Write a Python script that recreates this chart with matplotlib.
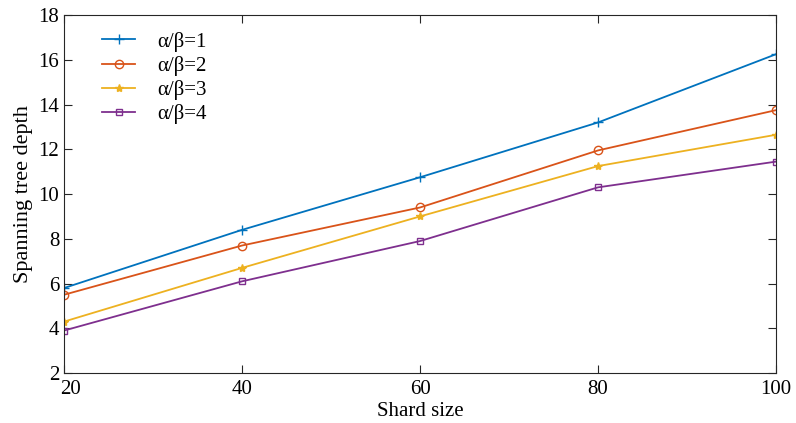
import matplotlib.pyplot as plt
import matplotlib.transforms as mtransforms
import numpy as np

plt.rcParams['font.family'] = ['Liberation Serif', 'DejaVu Serif']

shard_size = [20, 40, 60, 80, 100]
depth_r1 = [5.8, 8.4, 10.75, 13.2, 16.25]
depth_r2 = [5.5, 7.7, 9.4, 11.95, 13.75]
depth_r3 = [4.3, 6.7, 9.0, 11.25, 12.65]
depth_r4 = [3.9, 6.1, 7.9, 10.3, 11.45]
labels = ['α/β=1', 'α/β=2', 'α/β=3', 'α/β=4']

fig = plt.figure(figsize=(7.96, 4.23), dpi=100)
ax = fig.add_axes([0.0804, 0.118, 0.8946, 0.8465])

ax.plot(shard_size, depth_r1, color='#0072BD', marker='+', markersize=7, lw=1.3, label=labels[0])
ax.plot(shard_size, depth_r2, color='#D95319', marker='o', markersize=6, mfc='none', lw=1.3, label=labels[1])
ax.plot(shard_size, depth_r3, color='#EDB120', marker='*', markersize=6, lw=1.3, label=labels[2])
ax.plot(shard_size, depth_r4, color='#7E2F8E', marker='s', markersize=5, mfc='none', lw=1.3, label=labels[3])

ax.set_xlim(20, 100)
ax.set_ylim(2, 18)
ax.set_xticks([20, 40, 60, 80, 100])
ax.set_yticks(np.arange(2, 19, 2))
ax.tick_params(direction='in', top=True, right=True, labelsize=15, length=6, color='#262626')
ax.tick_params(axis='x', pad=5)
for s in ax.spines.values():
    s.set_color('#262626')
    s.set_linewidth(0.8)

# nudge the first x label right so it clears the "2" on the y axis
first = ax.get_xticklabels()[0]
first.set_transform(first.get_transform() + mtransforms.ScaledTranslation(7 / 100, 0, fig.dpi_scale_trans))

ax.set_xlabel('Shard size', fontsize=15, labelpad=2)
ax.set_ylabel('Spanning tree depth', fontsize=16, labelpad=4)
ax.legend(loc='upper left', fontsize=15, frameon=False, handlelength=1.6,
          handletextpad=1.05, labelspacing=0.2, borderaxespad=0.4,
          bbox_to_anchor=(0.03, 1.0))

plt.savefig('out.png', dpi=100)
